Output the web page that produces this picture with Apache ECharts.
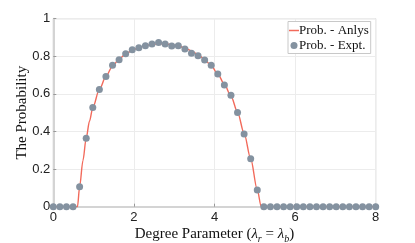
<!DOCTYPE html>
<html>
<head>
<meta charset="utf-8">
<script src="https://cdn.jsdelivr.net/npm/echarts@6/dist/echarts.min.js"></script>
<style>html,body{margin:0;padding:0;background:#fff}#c{width:415px;height:243px}</style>
</head>
<body>
<div id="c"></div>
<script>
// Experimental points: x = i*8/49, i = 0..49
const exptX = Array.from({length: 50}, (_, i) => i * 8 / 49);
const exptY = [0, 0, 0, 0, 0.106, 0.364, 0.527, 0.624, 0.693, 0.752,
  0.782, 0.814, 0.835, 0.846, 0.856, 0.865, 0.874, 0.865, 0.855, 0.856,
  0.839, 0.816, 0.803, 0.780, 0.752, 0.706, 0.648, 0.593, 0.501, 0.387,
  0.255, 0.089, 0, 0, 0, 0, 0, 0, 0, 0,
  0, 0, 0, 0, 0, 0, 0, 0, 0, 0];
// Analytic curve
const anlysX = [0, 0.6, 0.653, 0.735, 0.816, 0.898, 0.98, 1.143, 1.306, 1.469, 1.633, 1.796, 1.959,
  2.122, 2.286, 2.449, 2.612, 2.776, 2.939, 3.102, 3.265, 3.429, 3.592, 3.755, 3.918,
  4.082, 4.245, 4.408, 4.571, 4.735, 4.898, 5.061, 5.16, 8];
const anlysY = [0, 0, 0.106, 0.245, 0.364, 0.455, 0.527, 0.624, 0.693, 0.748, 0.785, 0.812, 0.832,
  0.847, 0.857, 0.863, 0.866, 0.866, 0.862, 0.855, 0.844, 0.829, 0.809, 0.783, 0.75,
  0.706, 0.651, 0.589, 0.503, 0.39, 0.255, 0.09, 0, 0];
const xTicks = [0, 2, 4, 6, 8];
const yTicks = [0, 0.2, 0.4, 0.6, 0.8, 1];

const serif = '"Liberation Serif", "DejaVu Serif", serif';
const sans = '"Liberation Sans", Arial, sans-serif';
const chart = echarts.init(document.getElementById('c'), null, {renderer: 'canvas'});
chart.setOption({
  animation: false,
  backgroundColor: '#fff',
  grid: {left: 53.3, right: 39.3, top: 18.7, bottom: 36.3, show: true, borderColor: '#a8a8a8', borderWidth: 0.8,
    containLabel: false, outerBoundsMode: 'none'},
  legend: {
    orient: 'vertical', left: 288, top: 21.5, padding: [2, 2, 1, 1], itemGap: 1,
    backgroundColor: '#fff', borderColor: '#c8c8c8', borderWidth: 1, borderRadius: 0,
    itemWidth: 10, itemHeight: 7,
    textStyle: {fontFamily: serif, fontSize: 13, color: '#111', padding: [0, 0, 0, -5], lineHeight: 14},
    data: [
      {name: 'Prob. - Anlys', icon: 'path://M0 0H20V3H0Z'},
      {name: 'Prob. - Expt.', icon: 'circle'}
    ]
  },
  xAxis: {
    type: 'value', min: 0, max: 8, interval: 2,
    name: '{a|Degree Parameter (}{i|λ}{s|r}{a| = }{i|λ}{s|b}{a|)}',
    nameLocation: 'middle', nameGap: 19, nameMoveOverlap: false,
    nameTextStyle: {
      rich: {
        a: {fontFamily: serif, fontSize: 15, color: '#111', lineHeight: 17},
        i: {fontFamily: serif, fontSize: 15, fontStyle: 'italic', color: '#111', lineHeight: 17},
        s: {fontFamily: serif, fontSize: 10, fontStyle: 'italic', color: '#111', lineHeight: 10, verticalAlign: 'bottom', padding: [0, 0, -2, 0]}
      }
    },
    axisLine: {show: true, onZero: false, lineStyle: {color: '#d4d4d4', width: 2}},
    axisTick: {show: true, inside: true, length: 3, lineStyle: {color: '#999'}},
    axisLabel: {fontFamily: sans, fontSize: 13, color: '#222', margin: 4,
      formatter: v => xTicks.includes(v) ? String(v) : ''},
    splitLine: {show: true, lineStyle: {color: '#ececec', width: 1}}
  },
  yAxis: {
    type: 'value', min: 0, max: 1, interval: 0.2,
    name: 'The Probability', nameLocation: 'middle', nameGap: 24, nameMoveOverlap: false,
    nameTextStyle: {fontFamily: serif, fontSize: 15, color: '#111'},
    axisLine: {show: true, onZero: false, lineStyle: {color: '#d4d4d4', width: 2}},
    axisTick: {show: true, inside: true, length: 3, lineStyle: {color: '#999'}},
    axisLabel: {fontFamily: sans, fontSize: 13, color: '#222', margin: 3,
      formatter: v => { const t = yTicks.find(y => Math.abs(y - v) < 1e-9); return t === undefined ? '' : String(t); }},
    splitLine: {show: true, lineStyle: {color: '#ececec', width: 1}}
  },
  series: [
    {
      name: 'Prob. - Anlys', type: 'line', symbol: 'none', smooth: 0.3, smoothMonotone: 'x',
      lineStyle: {color: '#f26a5b', width: 1.4}, itemStyle: {color: '#f26a5b'},
      data: anlysX.map((x, i) => [x, anlysY[i]]), z: 2
    },
    {
      name: 'Prob. - Expt.', type: 'scatter', symbol: 'circle', symbolSize: 7,
      itemStyle: {color: '#8492a0', opacity: 1},
      data: exptX.map((x, i) => [x, exptY[i]]), z: 3
    }
  ]
});
</script>
</body>
</html>
